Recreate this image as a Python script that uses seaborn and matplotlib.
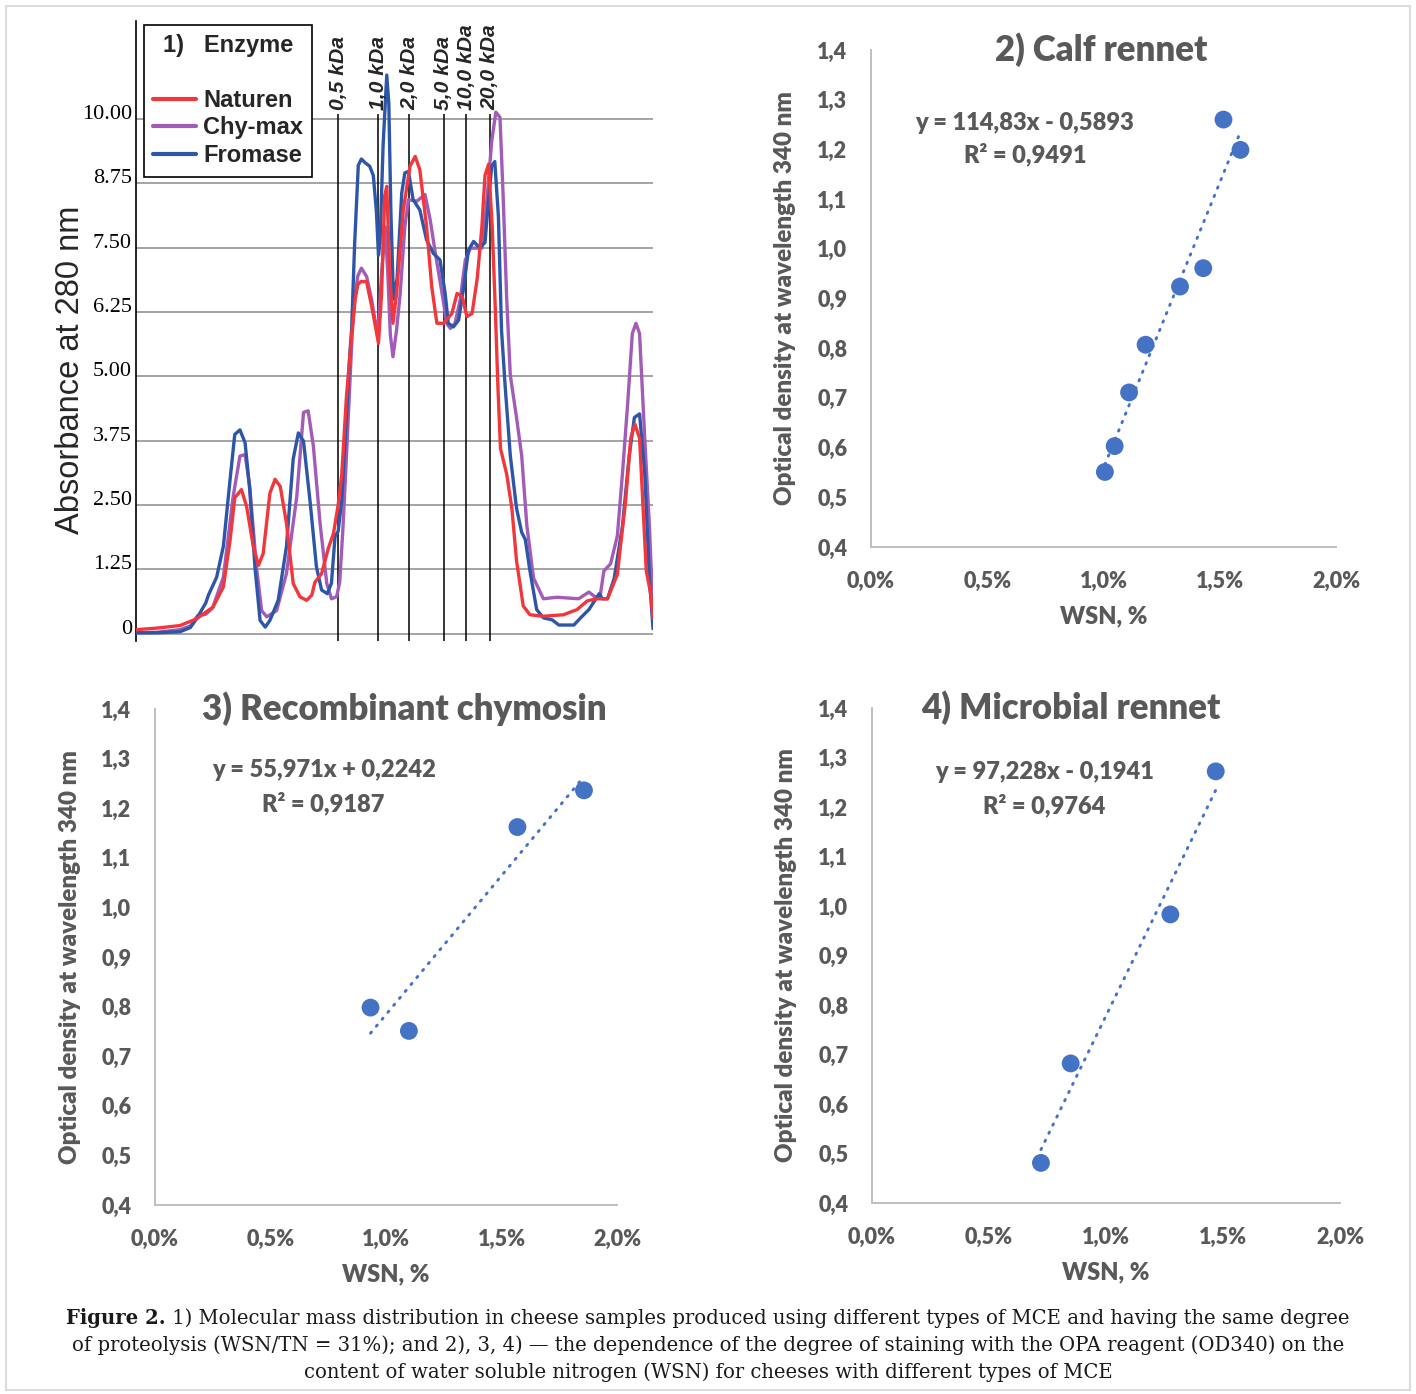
import numpy as np
import matplotlib
matplotlib.use("Agg")
import matplotlib.pyplot as plt
import seaborn as sns
from matplotlib.lines import Line2D
from matplotlib.patches import Rectangle
from matplotlib.ticker import FuncFormatter, FixedLocator

# ---------------- data ----------------
# Panel 1: elution profile (relative position along the run, 0-100) vs absorbance at 280 nm
naturen_x = [0, 4.0, 8.5, 11.7, 14.9, 16.9, 18.2, 19.1, 20.4, 21.4, 22.7, 23.7, 24.6, 25.9, 26.9, 27.9,
             29.1, 30.4, 31.7, 33.0, 34.0, 34.6, 35.9, 37.2, 38.2, 39.1, 39.8, 40.7, 41.7, 42.4, 42.9,
             43.5, 44.6, 45.6, 46.2, 46.9, 47.5, 48.1, 48.5, 49.1, 49.7, 50.4, 51.7, 53.0, 54.0, 54.9,
             56.2, 57.2, 58.2, 59.5, 61.1, 62.1, 63.1, 64.0, 65.0, 66.0, 66.9, 67.5, 68.2, 68.9, 69.5,
             70.0, 70.5, 71.7, 72.7, 73.6, 74.9, 76.2, 78.8, 82.7, 85.3, 87.3, 89.2, 91.2, 93.1, 94.7,
             95.7, 96.5, 97.4, 98.7, 99.6, 100.0]
naturen_y = [0.08, 0.11, 0.16, 0.29, 0.52, 0.91, 1.82, 2.64, 2.80, 2.47, 1.69, 1.33, 1.56, 2.73, 3.00, 2.86,
             2.15, 0.98, 0.72, 0.65, 0.75, 1.00, 1.17, 1.66, 1.95, 2.50, 3.10, 4.60, 5.80, 6.50, 6.78,
             6.84, 6.84, 6.35, 6.03, 5.64, 6.60, 8.50, 8.69, 6.94, 6.03, 6.61, 8.23, 9.08, 9.27, 9.01,
             7.91, 6.74, 6.03, 6.03, 6.22, 6.61, 6.55, 6.16, 6.22, 6.90, 7.90, 8.90, 9.12, 7.90, 6.30,
             4.80, 3.60, 3.10, 2.44, 1.42, 0.54, 0.37, 0.34, 0.37, 0.47, 0.64, 0.68, 0.68, 1.15, 2.58,
             3.80, 4.07, 3.80, 1.22, 0.75, 0.30]

chymax_x = [0, 4.0, 8.5, 10.5, 11.9, 13.5, 14.8, 16.9, 18.8, 20.1, 21.1, 22.0, 23.3, 24.3, 25.3, 27.2,
            29.1, 31.1, 32.4, 33.3, 34.3, 35.6, 36.9, 37.8, 38.8, 39.4, 40.0, 40.6, 41.2, 41.8, 42.3,
            42.9, 43.6, 44.6, 45.6, 46.2, 46.9, 47.5, 48.2, 48.7, 49.2, 49.7, 50.4, 51.1, 52.0, 52.7,
            54.3, 55.9, 56.9, 57.9, 59.2, 60.1, 60.8, 61.7, 62.7, 63.7, 64.7, 66.9, 67.8, 68.8, 69.6,
            70.4, 71.0, 71.7, 72.4, 73.6, 74.6, 75.6, 76.9, 78.8, 81.4, 85.6, 87.6, 88.9, 89.8, 90.5,
            91.8, 93.1, 94.1, 95.1, 96.0, 96.7, 97.4, 98.4, 99.3, 100.0]
chymax_y = [0.02, 0.03, 0.08, 0.15, 0.35, 0.38, 0.50, 1.10, 2.67, 3.45, 3.48, 2.86, 1.30, 0.45, 0.33, 0.45,
            1.17, 2.67, 4.30, 4.33, 3.65, 2.15, 0.98, 0.68, 0.72, 1.00, 2.00, 3.23, 4.50, 5.80, 6.50,
            6.95, 7.10, 6.94, 6.48, 6.10, 5.96, 7.00, 7.90, 7.00, 5.80, 5.38, 5.90, 6.61, 7.91, 8.43,
            8.40, 8.53, 8.04, 7.39, 6.61, 6.03, 5.93, 6.03, 6.48, 7.26, 7.49, 7.49, 8.34, 9.56, 10.13,
            10.03, 8.54, 6.51, 5.02, 4.20, 3.46, 2.10, 1.08, 0.68, 0.71, 0.68, 0.81, 0.71, 0.75, 1.22,
            1.36, 1.90, 3.12, 4.47, 5.83, 6.03, 5.83, 3.80, 2.10, 0.41]

fromase_x = [0, 4.0, 8.5, 10.5, 11.7, 13.5, 14.0, 15.6, 16.9, 18.2, 19.1, 20.1, 21.1, 22.0, 23.0, 24.0,
             25.0, 25.9, 27.5, 29.1, 30.4, 31.4, 32.4, 33.7, 34.9, 35.9, 37.0, 37.8, 38.5, 39.1, 39.8,
             40.7, 41.4, 41.7, 42.3, 43.0, 43.6, 44.3, 45.2, 45.9, 46.5, 46.9, 47.2, 47.8, 48.5, 48.9,
             49.3, 49.8, 50.5, 51.4, 52.0, 52.7, 53.6, 54.9, 56.2, 57.5, 58.8, 59.8, 60.4, 61.4, 62.4,
             63.4, 64.3, 65.3, 66.5, 67.5, 68.2, 68.8, 69.4, 70.1, 70.7, 71.4, 72.4, 73.6, 74.6, 75.3,
             76.2, 77.5, 78.8, 80.5, 81.8, 84.7, 86.0, 87.6, 89.6, 90.2, 91.2, 92.5, 94.1, 95.4, 96.4,
             97.4, 98.4, 99.3, 100.0]
fromase_y = [0.02, 0.02, 0.04, 0.12, 0.29, 0.60, 0.75, 1.10, 1.70, 3.00, 3.87, 3.96, 3.71, 2.80, 1.30, 0.26,
             0.13, 0.26, 0.65, 1.69, 3.39, 3.90, 3.74, 2.54, 1.30, 0.85, 0.78, 0.98, 1.89, 1.99, 2.60,
             4.20, 5.50, 5.90, 7.60, 9.10, 9.22, 9.15, 9.08, 8.90, 8.20, 7.35, 7.60, 9.50, 10.85, 10.30,
             8.20, 6.50, 6.90, 8.56, 8.95, 8.98, 8.43, 8.23, 7.65, 7.39, 7.26, 6.61, 6.03, 5.96, 6.09,
             6.74, 7.45, 7.62, 7.49, 7.60, 8.43, 9.08, 9.17, 8.10, 5.90, 4.81, 3.46, 2.44, 1.97, 1.83,
             1.22, 0.47, 0.31, 0.27, 0.17, 0.17, 0.31, 0.47, 0.78, 0.68, 0.68, 1.08, 2.10, 3.46, 4.20,
             4.27, 3.12, 1.08, 0.10]

enzyme_names = ["Naturen", "Chy-max", "Fromase"]
enzyme_colors = ["#F2373C", "#A25CB8", "#2D56A8"]

# molecular mass markers (position along the run)
kda_labels = ["0,5 kDa", "1,0 kDa", "2,0 kDa", "5,0 kDa", "10,0 kDa", "20,0 kDa"]
kda_pos = [39.1, 46.9, 52.9, 59.5, 63.9, 68.4]

abs_ticks = [0, 1.25, 2.50, 3.75, 5.00, 6.25, 7.50, 8.75, 10.00]
abs_tick_labels = ["0", "1.25", "2.50", "3.75", "5.00", "6.25", "7.50", "8.75", "10.00"]

# Panels 2-4: WSN (fraction) vs OD340
calf_wsn = [0.01006, 0.01048, 0.01110, 0.01181, 0.01329, 0.01429, 0.01516, 0.01589]
calf_od = [0.551, 0.603, 0.711, 0.807, 0.924, 0.961, 1.260, 1.199]
recomb_wsn = [0.00933, 0.01099, 0.01569, 0.01857]
recomb_od = [0.798, 0.751, 1.162, 1.236]
micro_wsn = [0.00722, 0.00849, 0.01275, 0.01469]
micro_od = [0.481, 0.682, 0.983, 1.272]

panel_titles = ["2) Calf rennet", "3) Recombinant chymosin", "4) Microbial rennet"]
fit_slopes = [114.83, 55.971, 97.228]
fit_intercepts = [-0.5893, 0.2242, -0.1941]
fit_r2 = [0.9491, 0.9187, 0.9764]

wsn_ticks = [0.0, 0.005, 0.010, 0.015, 0.020]
od_ticks = [0.4, 0.5, 0.6, 0.7, 0.8, 0.9, 1.0, 1.1, 1.2, 1.3, 1.4]

caption_bold = "Figure 2."
caption_lines = [
    " 1) Molecular mass distribution in cheese samples produced using different types of MCE and having the same degree",
    "of proteolysis (WSN/TN = 31%); and 2), 3, 4) \u2014 the dependence of the degree of staining with the OPA reagent (OD340) on the",
    "content of water soluble nitrogen (WSN) for cheeses with different types of MCE",
]

# ---------------- figure ----------------
sns.set_theme(style="white")
plt.rcParams['font.family'] = ['Lato', 'DejaVu Sans']

W, H = 1416, 1394
fig = plt.figure(figsize=(W / 100, H / 100), dpi=100)
fig.patch.set_facecolor("white")


def axes_px(left, top, right, bottom):
    return fig.add_axes([left / W, 1 - bottom / H, (right - left) / W, (bottom - top) / H])


# ---- panel 1 ----
ax1 = axes_px(136, 21, 653, 641)
curves = {
    "Naturen": (naturen_x, naturen_y),
    "Chy-max": (chymax_x, chymax_y),
    "Fromase": (fromase_x, fromase_y),
}
color_of = dict(zip(enzyme_names, enzyme_colors))
for name in ["Chy-max", "Fromase", "Naturen"]:
    xs, ys = curves[name]
    sns.lineplot(x=xs, y=ys, ax=ax1, color=color_of[name], lw=2.4, sort=False,
                 estimator=None, legend=False, zorder=3,
                 solid_joinstyle="round", solid_capstyle="round")

ax1.set_xlim(0, 100)
ax1.set_ylim(-0.14, 11.9)
ax1.set_xticks([])
ax1.yaxis.set_major_locator(FixedLocator(abs_ticks))
ax1.set_yticklabels(abs_tick_labels, family="Liberation Serif", fontsize=16)
for lbl in ax1.get_yticklabels():
    lbl.set_verticalalignment("baseline")
ax1.tick_params(axis="y", length=0, pad=3, colors="black")
ax1.yaxis.grid(True, color="#8C8C8C", lw=1.1)
ax1.xaxis.grid(False)
for side in ["top", "right", "bottom"]:
    ax1.spines[side].set_visible(False)
ax1.spines["left"].set_color("black")
ax1.spines["left"].set_linewidth(1.2)

ax1.vlines(kda_pos, -0.14, 10.1, color="black", lw=1.1, zorder=2)
for pos, lab in zip(kda_pos, kda_labels):
    ax1.text(pos, 10.18, lab, rotation=90, ha="center", va="bottom",
             family="Liberation Sans", fontsize=15.2, weight="bold", style="italic")

ax1.set_ylabel("Absorbance at 280 nm", family="Liberation Sans", fontsize=23.5)
ax1.yaxis.set_label_coords(-0.127, 0.437)
ax1.yaxis.label.set_verticalalignment("center")

handles = [Line2D([], [], color=color_of[n], lw=3) for n in enzyme_names]
leg = ax1.legend(handles, enzyme_names, title="1)   Enzyme\n", loc="upper left",
                 bbox_to_anchor=(144 / W, 1 - 25 / H), bbox_transform=fig.transFigure,
                 frameon=True, fancybox=False, framealpha=1, edgecolor="black",
                 prop={"family": "Liberation Sans", "weight": "bold", "size": 17},
                 title_fontproperties={"family": "Liberation Sans", "weight": "bold", "size": 17},
                 handlelength=1.8, handletextpad=0.3, labelspacing=0.2, borderpad=0.4,
                 borderaxespad=0)
leg.get_frame().set_linewidth(1.2)
leg.set_zorder(5)

# ---- panels 2-4 ----
GRAY_TXT = "#595959"
AXIS_GRAY = "#BFBFBF"
POINT = "#4472C4"


def comma(s):
    return s.replace(".", ",")


def od_panel(ax, wsn, od, idx, title_x, eq_x, eq_y, r2_y):
    slope, icpt, r2 = fit_slopes[idx], fit_intercepts[idx], fit_r2[idx]
    xfit = np.array([min(wsn), max(wsn)])
    ax.plot(xfit, slope * xfit + icpt, color=POINT, lw=2.1,
            linestyle=(0, (0.5, 2.6)), dash_capstyle="round", zorder=2)
    sns.scatterplot(x=wsn, y=od, ax=ax, color=POINT, s=165, edgecolor="none",
                    linewidth=0, zorder=3, legend=False)
    ax.set_xlim(0, 0.02)
    ax.set_ylim(0.4, 1.4)
    ax.xaxis.set_major_locator(FixedLocator(wsn_ticks))
    ax.yaxis.set_major_locator(FixedLocator(od_ticks))
    ax.xaxis.set_major_formatter(FuncFormatter(lambda v, _: comma(f"{v * 100:.1f}%")))
    ax.yaxis.set_major_formatter(FuncFormatter(lambda v, _: comma(f"{v:.1f}")))
    for side in ["top", "right"]:
        ax.spines[side].set_visible(False)
    for side in ["left", "bottom"]:
        ax.spines[side].set_color(AXIS_GRAY)
        ax.spines[side].set_linewidth(1.4)
    ax.tick_params(axis="both", direction="out", length=5, width=1.4, color=AXIS_GRAY,
                   labelcolor=GRAY_TXT, labelsize=15.5)
    ax.tick_params(axis="y", pad=12)
    ax.tick_params(axis="x", pad=12)
    for lbl in ax.get_xticklabels() + ax.get_yticklabels():
        lbl.set_fontweight("heavy")
    ax.grid(False)
    ax.set_xlabel("WSN, %", fontsize=17, weight="heavy", color=GRAY_TXT)
    ax.xaxis.set_label_coords(0.5, -0.14)
    ax.xaxis.label.set_verticalalignment("center")
    ax.set_ylabel("Optical density at wavelength 340 nm", fontsize=17.4, weight="heavy", color=GRAY_TXT)
    ax.yaxis.set_label_coords(-0.184, 0.5)
    ax.yaxis.label.set_verticalalignment("center")
    ax.text(title_x, 1.0, panel_titles[idx], transform=ax.transAxes, ha="center", va="center",
            fontsize=25, weight="heavy", color=GRAY_TXT)
    sign = "-" if icpt < 0 else "+"
    eq = comma(f"y = {slope:g}x {sign} {abs(icpt):.4f}")
    ax.text(eq_x, eq_y, eq, transform=ax.transAxes, ha="center", va="center",
            fontsize=17, weight="heavy", color=GRAY_TXT)
    ax.text(eq_x, r2_y, comma(f"R\u00b2 = {r2:.4f}"), transform=ax.transAxes, ha="center",
            va="center", fontsize=17, weight="heavy", color=GRAY_TXT)


ax2 = axes_px(871, 50, 1336, 547)
od_panel(ax2, calf_wsn, calf_od, 0, title_x=0.495, eq_x=0.331, eq_y=0.853, r2_y=0.789)

ax3 = axes_px(155, 709, 617, 1205)
od_panel(ax3, recomb_wsn, recomb_od, 1, title_x=0.539, eq_x=0.365, eq_y=0.877, r2_y=0.810)

ax4 = axes_px(872, 708, 1340, 1203)
od_panel(ax4, micro_wsn, micro_od, 2, title_x=0.424, eq_x=0.368, eq_y=0.871, r2_y=0.804)

# ---- caption ----
renderer = fig.canvas.get_renderer()
cap_kw = dict(family="DejaVu Serif", fontsize=14.1, color="#1a1a1a", va="center")
cap_y = [1318, 1345, 1372]
tb = fig.text(0, 0, caption_bold, weight="bold", ha="left", **cap_kw)
tr = fig.text(0, 0, caption_lines[0], ha="left", **cap_kw)
wb = tb.get_window_extent(renderer).width
wr = tr.get_window_extent(renderer).width
x0 = W / 2 - (wb + wr) / 2
tb.set_position((x0 / W, 1 - cap_y[0] / H))
tr.set_position(((x0 + wb) / W, 1 - cap_y[0] / H))
for line, yy in zip(caption_lines[1:], cap_y[1:]):
    fig.text(0.5, 1 - yy / H, line, ha="center", **cap_kw)

# thin frame around the whole figure
fig.patches.append(Rectangle((6 / W, 1 - 1390 / H), 1404 / W, 1384 / H, transform=fig.transFigure,
                             fill=False, edgecolor="#DCDCDC", lw=1.5))

fig.savefig("out.png", dpi=100, facecolor="white")
